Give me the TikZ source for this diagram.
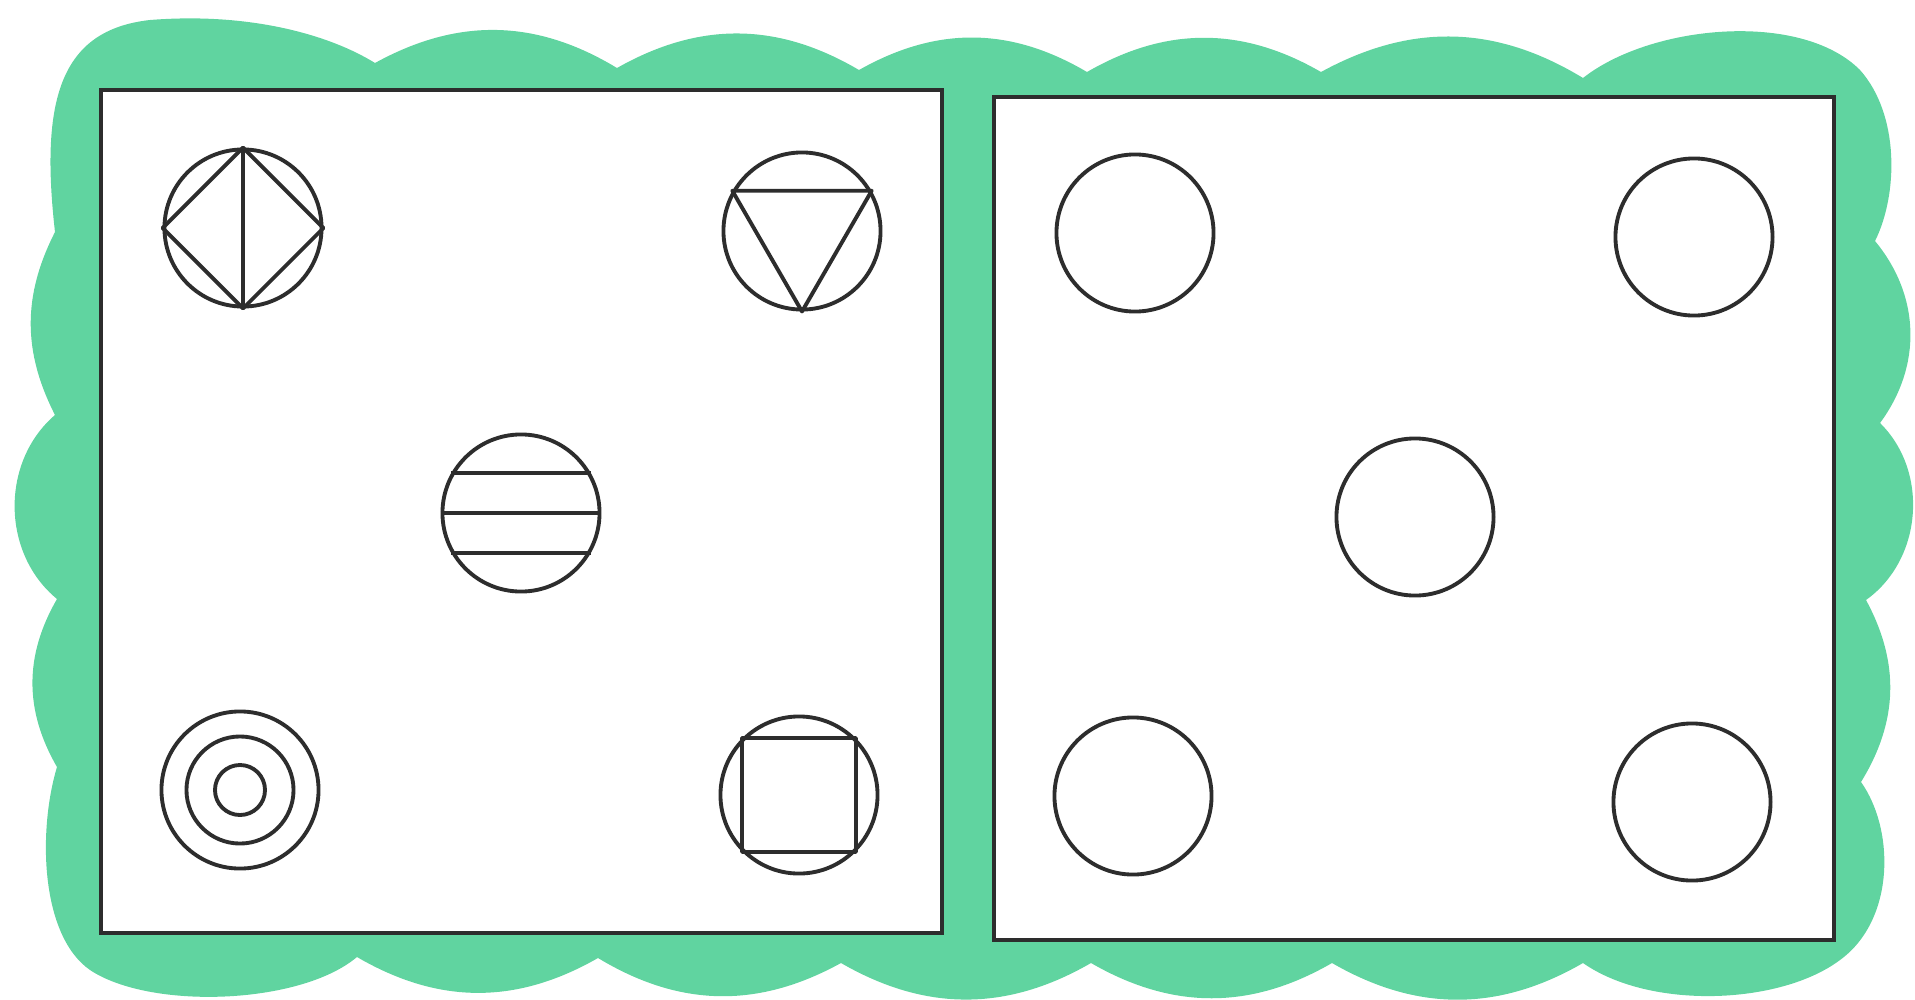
\documentclass[tikz,border=0pt]{standalone}
\usepackage{xcolor}
\usepackage{tikz}

\definecolor{mint}{RGB}{96,212,160}
\definecolor{ink}{RGB}{45,45,45}

\begin{document}
\begin{tikzpicture}[x=0.01cm, y=-0.01cm, % pixel grid, y down
          scallop/.style={fill=mint},
          panel/.style={draw=ink, fill=white, line width=1.3pt},
          ring/.style={circle, draw=ink, line width=1.1pt, minimum size=1.57cm, inner sep=0pt},
          figline/.style={draw=ink, line width=1.1pt, line join=round}
        ]
        \useasboundingbox (0,0) rectangle (1915,1000);
        % Green wavy frame
        \fill[scallop] (55,232)
          .. controls (40,100) and (60,30) .. (150,20)
          .. controls (250,12) and (330,35) .. (375,63)
          to[bend left=30] (617,68)
          to[bend left=30] (859,70)
          to[bend left=30] (1087,72)
          to[bend left=30] (1321,72)
          to[bend left=30] (1583,78)
          .. controls (1650,25) and (1800,10) .. (1860,70)
          .. controls (1900,115) and (1898,195) .. (1875,241)
          to[bend left=38] (1880,423)
          to[bend left=50] (1866,600)
          to[bend left=30] (1861,782)
          .. controls (1895,830) and (1895,920) .. (1840,960)
          .. controls (1780,1005) and (1650,1010) .. (1583,963)
          to[bend left=30] (1332,963)
          to[bend left=30] (1091,963)
          to[bend left=30] (841,963)
          to[bend left=30] (598,958)
          to[bend left=30] (357,957)
          .. controls (300,1005) and (150,1010) .. (90,970)
          .. controls (40,935) and (38,830) .. (57,767)
          to[bend left=30] (57,599)
          to[bend left=50] (55,415)
          to[bend left=27] (55,232) -- cycle;

        % Two panels
        \draw[panel] (101,90) rectangle (942,933);
        \draw[panel] (994,97) rectangle (1834,940);

        % Left panel figures
        \node[ring] (dia) at (243,228) {};
        \draw[figline] (dia.north) -- (dia.east) -- (dia.south) -- (dia.west) -- cycle
          (dia.north) -- (dia.south);

        \node[ring] (tri) at (802,231) {};
        \draw[figline] (tri.150) -- (tri.30) -- (tri.south) -- cycle;

        \node[ring] (bars) at (521,513) {};
        \draw[figline] (bars.150) -- (bars.30) (bars.west) -- (bars.east) (bars.210) -- (bars.330);

        \node[ring] (tgt) at (240,790) {};
        \node[ring, minimum size=1.07cm] (tgtmid) at (tgt) {};
        \node[ring, minimum size=0.5cm] (tgtin) at (tgt) {};

        \node[ring] (sq) at (799,795) {};
        \draw[figline] (sq.45) -- (sq.135) -- (sq.225) -- (sq.315) -- cycle;

        % Right panel, empty circles
        \foreach \n/\x/\y in {a/1135/233, b/1694/237, c/1415/517, d/1133/796, e/1692/802}
          \node[ring] (blank\n) at (\x,\y) {};
\end{tikzpicture}
\end{document}
